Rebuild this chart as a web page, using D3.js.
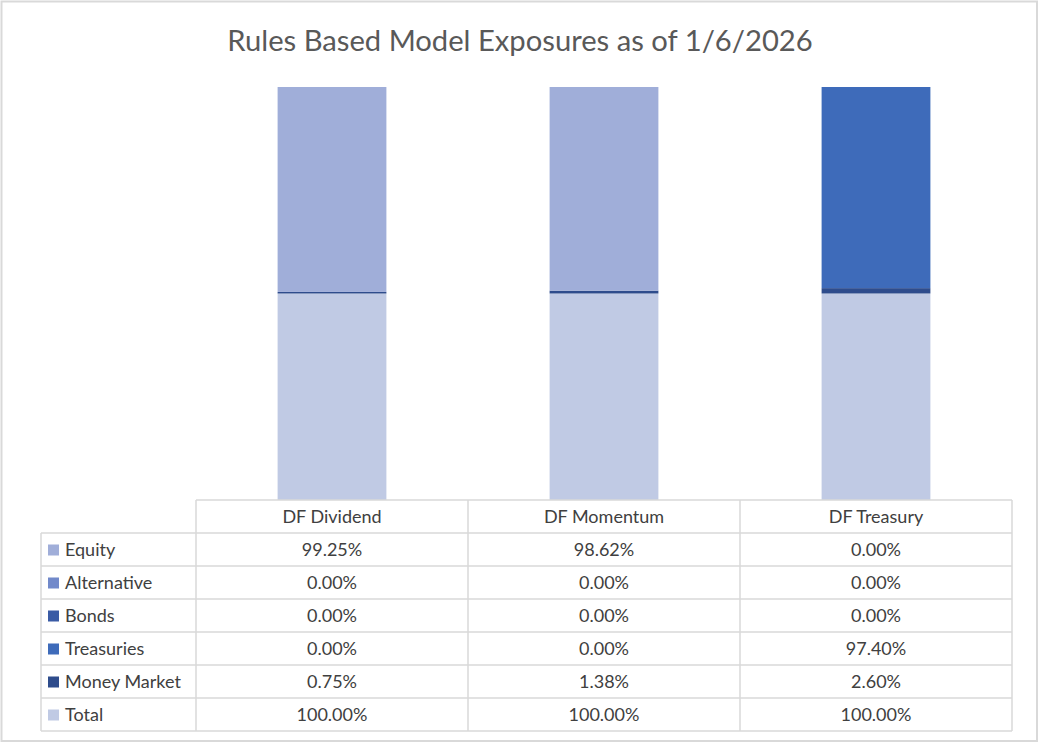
<!DOCTYPE html>
<html>
<head>
<meta charset="utf-8">
<script src="https://cdn.jsdelivr.net/npm/d3@7"></script>
<style>
  html, body { margin: 0; padding: 0; background: #fff; }
  svg { display: block; }
  text { font-family: Lato, "Open Sans", sans-serif; }
</style>
</head>
<body>
<svg id="chart" width="1040" height="744"></svg>
<script>
const title = "Rules Based Model Exposures as of 1/6/2026";
const categories = ["DF Dividend", "DF Momentum", "DF Treasury"];
const seriesNames = ["Equity", "Alternative", "Bonds", "Treasuries", "Money Market", "Total"];
const equity      = [99.25, 98.62, 0.00];
const alternative = [0.00, 0.00, 0.00];
const bonds       = [0.00, 0.00, 0.00];
const treasuries  = [0.00, 0.00, 97.40];
const moneyMarket = [0.75, 1.38, 2.60];
const total       = [100.00, 100.00, 100.00];
const seriesColors = ["#A0AED9", "#7189CA", "#3A5BA5", "#3E6BBA", "#2E4C8C", "#C0CAE4"];

const seriesValues = [equity, alternative, bonds, treasuries, moneyMarket, total];
// stack bottom-to-top: Total, Money Market, Treasuries, Bonds, Alternative, Equity
const stackKeys = seriesNames.slice().reverse();

const rows = categories.map((c, i) => {
  const r = { category: c };
  seriesNames.forEach((s, j) => { r[s] = seriesValues[j][i]; });
  return r;
});

const svg = d3.select("#chart");
const colorOf = d3.scaleOrdinal().domain(seriesNames).range(seriesColors);

// outer border
svg.append("rect").attr("x", 1.5).attr("y", 1.5).attr("width", 1035.5).attr("height", 739.5)
  .attr("fill", "#fff").attr("stroke", "#d9d9d9").attr("stroke-width", 2);

// title
svg.append("text").attr("x", 520).attr("y", 51).attr("text-anchor", "middle")
  .attr("font-size", 29.2).attr("fill", "#595959").text(title);

const plotLeft = 196, plotRight = 1012, plotTop = 87, plotBottom = 500;
const x = d3.scaleBand().domain(categories).range([plotLeft, plotRight]).paddingInner(0.6).paddingOuter(0.3);
const xCol = d3.scaleBand().domain(categories).range([plotLeft, plotRight]);
const y = d3.scaleLinear().domain([0, 200]).range([plotBottom, plotTop]);

const stacked = d3.stack().keys(stackKeys)(rows);

svg.append("g").selectAll("g").data(stacked).join("g")
  .attr("fill", d => colorOf(d.key))
  .selectAll("rect").data(d => d).join("rect")
  .attr("x", d => x(d.data.category))
  .attr("width", x.bandwidth())
  .attr("y", d => y(d[1]))
  .attr("height", d => Math.max(0, y(d[0]) - y(d[1])));

// data table
const rowH = 33;
const tableTop = plotBottom;
const labelLeft = 41;
const g = svg.append("g");
const lineColor = "#d9d9d9";
const sw = 1.5;
const fs = 18;
const nRows = seriesNames.length;
const tableBottom = tableTop + rowH * (nRows + 1);

// horizontal lines
g.append("line").attr("x1", plotLeft).attr("x2", plotRight).attr("y1", tableTop).attr("y2", tableTop)
  .attr("stroke", lineColor).attr("stroke-width", sw);
for (let i = 1; i <= nRows + 1; i++) {
  const yy = tableTop + rowH * i;
  g.append("line").attr("x1", labelLeft).attr("x2", plotRight).attr("y1", yy).attr("y2", yy)
    .attr("stroke", lineColor).attr("stroke-width", sw);
}
// vertical lines
g.append("line").attr("x1", labelLeft).attr("x2", labelLeft).attr("y1", tableTop + rowH).attr("y2", tableBottom)
  .attr("stroke", lineColor).attr("stroke-width", sw);
[plotLeft].concat(categories.map(c => xCol(c) + xCol.bandwidth())).forEach(xx => {
  g.append("line").attr("x1", xx).attr("x2", xx).attr("y1", tableTop).attr("y2", tableBottom)
    .attr("stroke", lineColor).attr("stroke-width", sw);
});

// header texts
categories.forEach(c => {
  g.append("text").attr("x", xCol(c) + xCol.bandwidth() / 2).attr("y", tableTop + rowH / 2 + 6)
    .attr("text-anchor", "middle").attr("font-size", fs).attr("fill", "#404040").text(c);
});

const fmt = v => v.toFixed(2) + "%";
seriesNames.forEach((s, j) => {
  const cy = tableTop + rowH * (j + 1) + rowH / 2;
  g.append("rect").attr("x", 48).attr("y", cy - 5).attr("width", 11).attr("height", 11)
    .attr("fill", colorOf(s));
  g.append("text").attr("x", 65).attr("y", cy + 6).attr("font-size", fs).attr("fill", "#404040").text(s);
  categories.forEach((c, i) => {
    g.append("text").attr("x", xCol(c) + xCol.bandwidth() / 2).attr("y", cy + 6)
      .attr("text-anchor", "middle").attr("font-size", fs).attr("fill", "#404040")
      .text(fmt(seriesValues[j][i]));
  });
});
</script>
</body>
</html>
